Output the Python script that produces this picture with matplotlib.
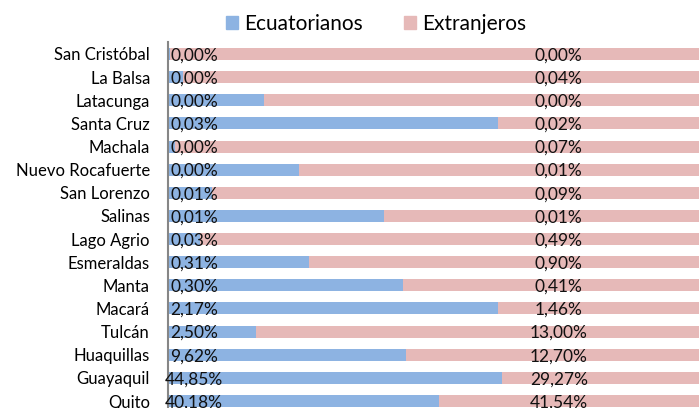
import matplotlib
matplotlib.use('Agg')
import matplotlib.pyplot as plt
from matplotlib.patches import Patch

plt.rcParams['font.family'] = ['Lato', 'DejaVu Sans']

ciudades = ['San Cristóbal', 'La Balsa', 'Latacunga', 'Santa Cruz', 'Machala',
            'Nuevo Rocafuerte', 'San Lorenzo', 'Salinas', 'Lago Agrio',
            'Esmeraldas', 'Manta', 'Macará', 'Tulcán', 'Huaquillas',
            'Guayaquil', 'Quito']

# share of the bar that is blue
frac_ecuatorianos = [0.003, 0.027, 0.174, 0.598, 0.012, 0.237, 0.080, 0.391,
                     0.058, 0.255, 0.426, 0.598, 0.159, 0.431, 0.605, 0.491]

etiq_ecuatorianos = ['0,00%', '0,00%', '0,00%', '0,03%', '0,00%', '0,00%',
                     '0,01%', '0,01%', '0,03%', '0,31%', '0,30%', '2,17%',
                     '2,50%', '9,62%', '44,85%', '40,18%']
etiq_extranjeros = ['0,00%', '0,04%', '0,00%', '0,02%', '0,07%', '0,01%',
                    '0,09%', '0,01%', '0,49%', '0,90%', '0,41%', '1,46%',
                    '13,00%', '12,70%', '29,27%', '41,54%']

azul = '#8DB3E2'
rosa = '#E6B9B8'

fig = plt.figure(figsize=(6.99, 4.08), dpi=100)
ax = fig.add_axes([168 / 699, -4.6 / 408, 552 / 699, 370.2 / 408])

y = list(range(len(ciudades)))
frac_ext = [1 - f for f in frac_ecuatorianos]
ax.barh(y, frac_ecuatorianos, height=0.52, color=azul)
ax.barh(y, frac_ext, left=frac_ecuatorianos, height=0.52, color=rosa)

for i in y:
    ax.text(0.047, i + 0.06, etiq_ecuatorianos[i], ha='center', va='center',
            fontsize=12.5, color='#111111')
    ax.text(0.708, i + 0.06, etiq_extranjeros[i], ha='center', va='center',
            fontsize=12.5, color='#111111')

ax.set_xlim(0, 1)
ax.set_ylim(len(ciudades) - 0.5, -0.5)
ax.set_yticks(y)
ax.set_yticklabels(ciudades, fontsize=12)
ax.tick_params(axis='y', length=0, pad=13)
ax.set_xticks([])
for s in ['top', 'right', 'bottom']:
    ax.spines[s].set_visible(False)
ax.spines['left'].set_color('#868686')
ax.spines['left'].set_linewidth(1.5)

handles = [Patch(color=azul, label='Ecuatorianos'),
           Patch(color=rosa, label='Extranjeros')]
fig.legend(handles=handles, loc='center', bbox_to_anchor=(376 / 699, 1 - 24 / 408),
           ncol=2, frameon=False, fontsize=15, handlelength=0.6, handleheight=0.6,
           handletextpad=0.3, columnspacing=1.95)

fig.savefig('out.png', dpi=100)
